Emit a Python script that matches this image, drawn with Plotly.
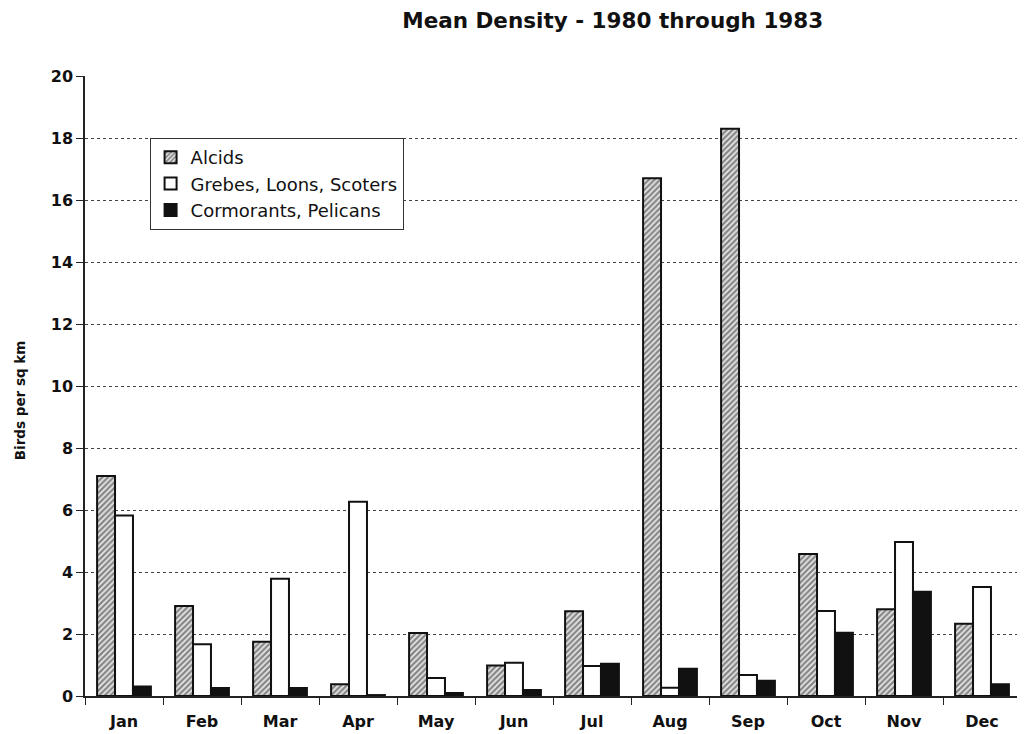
import plotly.graph_objects as go

months = ["Jan", "Feb", "Mar", "Apr", "May", "Jun", "Jul", "Aug", "Sep", "Oct", "Nov", "Dec"]
alcids = [7.1, 2.9, 1.75, 0.38, 2.03, 0.98, 2.73, 16.7, 18.3, 4.58, 2.8, 2.33]
grebes = [5.82, 1.67, 3.78, 6.27, 0.58, 1.07, 0.97, 0.27, 0.68, 2.74, 4.97, 3.52]
cormorants = [0.31, 0.26, 0.26, 0.03, 0.1, 0.19, 1.04, 0.88, 0.49, 2.04, 3.36, 0.38]
y_ticks = [0, 2, 4, 6, 8, 10, 12, 14, 16, 18, 20]

FONT = "DejaVu Sans, Arial, sans-serif"

fig = go.Figure()
fig.add_trace(go.Bar(
    x=months, y=alcids, name="Alcids",
    marker=dict(color="#e0e0e0", line=dict(color="#111", width=2),
                pattern=dict(shape="/", fgcolor="#222", bgcolor="#e8e8e8", size=4, solidity=0.55)),
))
fig.add_trace(go.Bar(
    x=months, y=grebes, name="Grebes, Loons, Scoters",
    marker=dict(color="white", line=dict(color="#111", width=2)),
))
fig.add_trace(go.Bar(
    x=months, y=cormorants, name="Cormorants, Pelicans",
    marker=dict(color="#111", line=dict(color="#111", width=2)),
))

fig.update_layout(
    width=1025, height=734,
    margin=dict(l=77, r=12, t=68, b=46),
    paper_bgcolor="white", plot_bgcolor="white",
    barmode="group", bargap=0.31, bargroupgap=0,
    font=dict(family=FONT, color="#111", size=16),
    title=dict(text="<b>Mean Density - 1980 through 1983</b>", x=0.59, xanchor="center",
               y=0.9837, yanchor="middle", font=dict(size=21.5, family=FONT, color="#111")),
    legend=dict(x=0.069, y=0.9, xanchor="left", yanchor="top",
                bordercolor="#333", borderwidth=1, bgcolor="white",
                font=dict(size=18, family=FONT), tracegroupgap=0, itemwidth=30),
    showlegend=True,
    annotations=[dict(text="<b>Birds per sq km</b>", xref="paper", yref="paper",
                      x=-0.0695, y=0.477, xanchor="center", yanchor="middle",
                      textangle=-90, showarrow=False,
                      font=dict(size=13.5, family=FONT, color="#111"))],
    xaxis=dict(
        showline=True, linecolor="#222", linewidth=1.5,
        ticks="outside", ticklen=7, tickcolor="#222", tickson="boundaries",
        tickfont=dict(size=16, family=FONT, color="#111", weight="bold"), ticklabelstandoff=10,
        showgrid=False,
    ),
    yaxis=dict(
        range=[0, 20], tickvals=y_ticks,
        showline=True, linecolor="#222", linewidth=1.5,
        ticks="outside", ticklen=7, tickcolor="#222",
        tickfont=dict(size=16, family=FONT, color="#111", weight="bold"),
        showgrid=True, gridcolor="#444", griddash="dot", gridwidth=1,
        zeroline=False,
    ),
    yaxis2=dict(overlaying="y", side="left", range=[0, 20], tickvals=y_ticks,
                ticks="inside", ticklen=6, tickcolor="#222", showticklabels=False,
                showgrid=False, showline=False, zeroline=False),
)

fig.write_html("out.html")
